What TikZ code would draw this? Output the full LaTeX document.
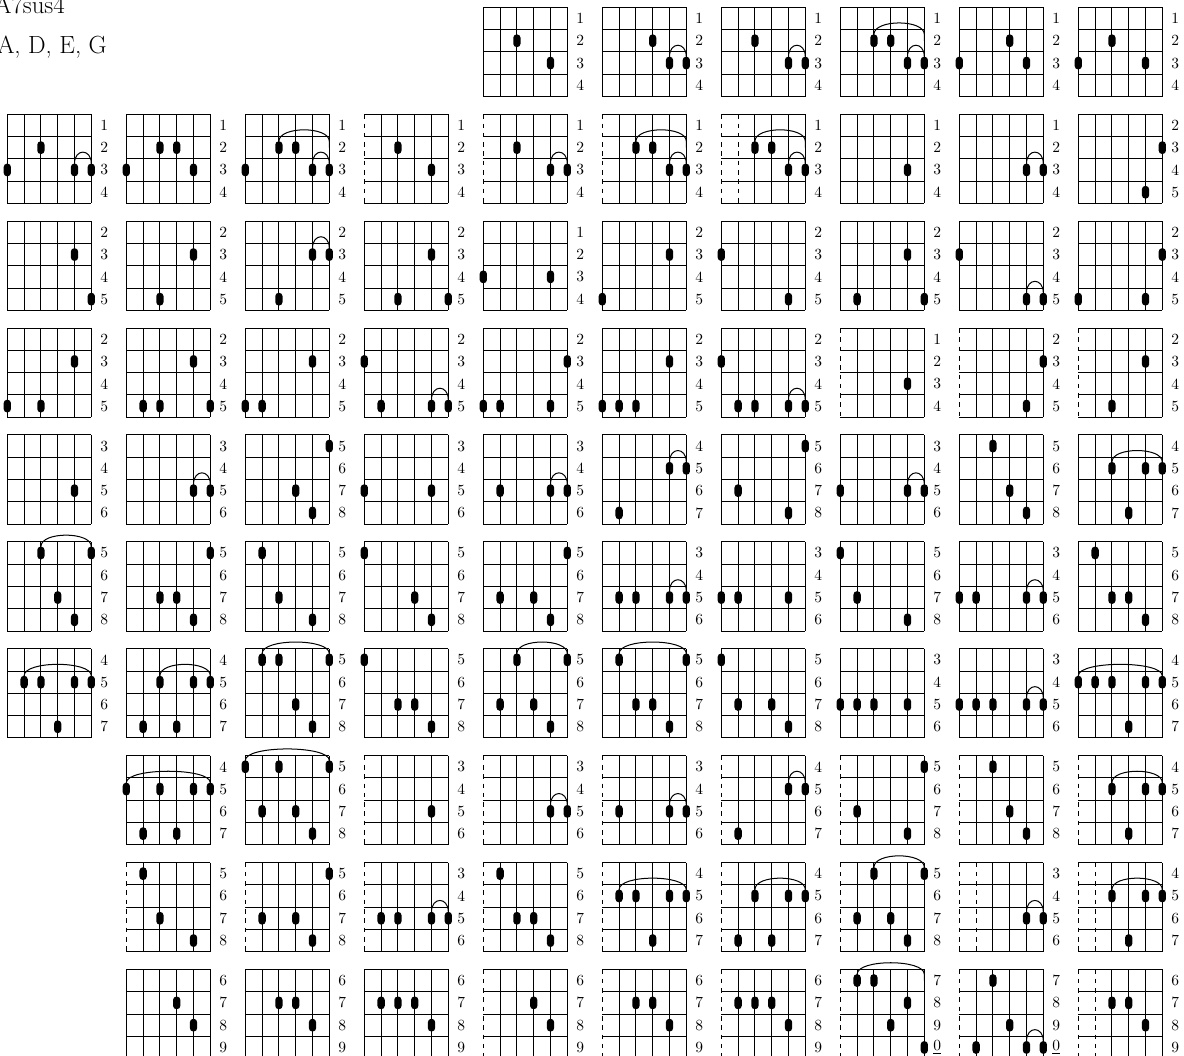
\documentclass[tikz,border=0pt]{standalone}
\usepackage{fontspec}
\usetikzlibrary{positioning}

\tikzset{
  fret line/.style={line width=0.65pt},
  muted string/.style={dash pattern=on 3pt off 3pt},
  finger/.style={fill=black, rounded corners=2.2pt},
  slur/.style={line width=0.65pt},
  fret label/.style={anchor=west, inner sep=0pt, font=\normalsize},
  title text/.style={anchor=base west, inner sep=0pt, font=\fontsize{16}{19}\selectfont}
}

% \chord{col}{row}{first fret}{muted strings}{string/row dots}{from/to/row arcs}
\newcommand{\chord}[6]{%
  \begin{scope}[shift={({7.3+119*#1},{7.3+106.9*#2})}]
    \foreach \f in {0,...,4}
      \draw[fret line] (0,{22.3*\f}) -- (84,{22.3*\f});
    \foreach \s in {1,...,6}{
      \ifnum\s>#4\relax
        \draw[fret line] ({16.8*(\s-1)},0) -- ({16.8*(\s-1)},89.2);
      \else
        \draw[fret line,muted string] ({16.8*(\s-1)},0) -- ({16.8*(\s-1)},89.2);
      \fi}
    \foreach \k in {0,...,3}{
      \pgfmathtruncatemacro\lab{#3+\k}
      \node[fret label] (lab-#2-#1-\k) at (92.7,{22.3*\k+11.15})
        {\ifnum\lab=10 \underline{0}\else\lab\fi};}
    \foreach \s/\r in {#5}
      \fill[finger] ({16.8*(\s-1)-3.65},{22.3*(\r-0.5)-6.35}) rectangle +(7.3,12.7);
    \if\relax\detokenize{#6}\relax\else
      \foreach \a/\b/\r in {#6}
        \draw[slur] ({16.8*(\a-1)},{22.3*(\r-0.5)}) -- ({16.8*(\a-1)},{22.3*(\r-0.5)-6.35})
          .. controls +(0,-15.3) and +(0,-15.3) .. ({16.8*(\b-1)},{22.3*(\r-0.5)-6.35})
          -- ({16.8*(\b-1)},{22.3*(\r-0.5)});
    \fi
  \end{scope}}

\begin{document}
\begin{tikzpicture}[x=0.645pt, y=-0.645pt]
  \useasboundingbox (0,0) rectangle (1184,1055);
  \node[title text] (chordname) at (-6,13) {A7sus4};
  \node[title text] (notes) at (-3,53) {A, D, E, G};

  % row 1
  \chord{4}{0}{1}{0}{3/2,5/3}{}
  \chord{5}{0}{1}{0}{4/2,5/3,6/3}{5/6/3}
  \chord{6}{0}{1}{0}{3/2,5/3,6/3}{5/6/3}
  \chord{7}{0}{1}{0}{3/2,4/2,5/3,6/3}{3/6/2,5/6/3}
  \chord{8}{0}{1}{0}{4/2,1/3,5/3}{}
  \chord{9}{0}{1}{0}{3/2,1/3,5/3}{}
  % row 2
  \chord{0}{1}{1}{0}{3/2,1/3,5/3,6/3}{5/6/3}
  \chord{1}{1}{1}{0}{3/2,4/2,1/3,5/3}{}
  \chord{2}{1}{1}{0}{3/2,4/2,1/3,5/3,6/3}{3/6/2,5/6/3}
  \chord{3}{1}{1}{1}{3/2,5/3}{}
  \chord{4}{1}{1}{1}{3/2,5/3,6/3}{5/6/3}
  \chord{5}{1}{1}{1}{3/2,4/2,5/3,6/3}{3/6/2,5/6/3}
  \chord{6}{1}{1}{2}{3/2,4/2,5/3,6/3}{3/6/2,5/6/3}
  \chord{7}{1}{1}{0}{5/3}{}
  \chord{8}{1}{1}{0}{5/3,6/3}{5/6/3}
  \chord{9}{1}{2}{0}{6/2,5/4}{}
  % row 3
  \chord{0}{2}{2}{0}{5/2,6/4}{}
  \chord{1}{2}{2}{0}{5/2,3/4}{}
  \chord{2}{2}{2}{0}{5/2,6/2,3/4}{5/6/2}
  \chord{3}{2}{2}{0}{5/2,3/4,6/4}{}
  \chord{4}{2}{1}{0}{1/3,5/3}{}
  \chord{5}{2}{2}{0}{5/2,1/4}{}
  \chord{6}{2}{2}{0}{1/2,5/4}{}
  \chord{7}{2}{2}{0}{5/2,2/4,6/4}{}
  \chord{8}{2}{2}{0}{1/2,5/4,6/4}{5/6/4}
  \chord{9}{2}{2}{0}{6/2,1/4,5/4}{}
  % row 4
  \chord{0}{3}{2}{0}{5/2,1/4,3/4}{}
  \chord{1}{3}{2}{0}{5/2,2/4,3/4,6/4}{}
  \chord{2}{3}{2}{0}{5/2,1/4,2/4}{}
  \chord{3}{3}{2}{0}{1/2,2/4,5/4,6/4}{5/6/4}
  \chord{4}{3}{2}{0}{6/2,1/4,2/4,5/4}{}
  \chord{5}{3}{2}{0}{5/2,1/4,2/4,3/4}{}
  \chord{6}{3}{2}{0}{1/2,2/4,3/4,5/4,6/4}{5/6/4}
  \chord{7}{3}{1}{1}{5/3}{}
  \chord{8}{3}{2}{1}{6/2,5/4}{}
  \chord{9}{3}{2}{1}{5/2,3/4}{}
  % row 5
  \chord{0}{4}{3}{0}{5/3}{}
  \chord{1}{4}{3}{0}{5/3,6/3}{5/6/3}
  \chord{2}{4}{5}{0}{6/1,4/3,5/4}{}
  \chord{3}{4}{3}{0}{1/3,5/3}{}
  \chord{4}{4}{3}{0}{2/3,5/3,6/3}{5/6/3}
  \chord{5}{4}{4}{0}{5/2,6/2,2/4}{5/6/2}
  \chord{6}{4}{5}{0}{6/1,2/3,5/4}{}
  \chord{7}{4}{3}{0}{1/3,5/3,6/3}{5/6/3}
  \chord{8}{4}{5}{0}{3/1,4/3,5/4}{}
  \chord{9}{4}{4}{0}{3/2,5/2,6/2,4/4}{3/6/2}
  % row 6
  \chord{0}{5}{5}{0}{3/1,6/1,4/3,5/4}{3/6/1}
  \chord{1}{5}{5}{0}{6/1,3/3,4/3,5/4}{}
  \chord{2}{5}{5}{0}{2/1,3/3,5/4}{}
  \chord{3}{5}{5}{0}{1/1,4/3,5/4}{}
  \chord{4}{5}{5}{0}{6/1,2/3,4/3,5/4}{}
  \chord{5}{5}{3}{0}{2/3,3/3,5/3,6/3}{5/6/3}
  \chord{6}{5}{3}{0}{1/3,2/3,5/3}{}
  \chord{7}{5}{5}{0}{1/1,2/3,5/4}{}
  \chord{8}{5}{3}{0}{1/3,2/3,5/3,6/3}{5/6/3}
  \chord{9}{5}{5}{0}{2/1,3/3,4/3,5/4}{}
  % row 7
  \chord{0}{6}{4}{0}{2/2,3/2,5/2,6/2,4/4}{2/6/2}
  \chord{1}{6}{4}{0}{3/2,5/2,6/2,2/4,4/4}{3/6/2}
  \chord{2}{6}{5}{0}{2/1,3/1,6/1,4/3,5/4}{2/6/1}
  \chord{3}{6}{5}{0}{1/1,3/3,4/3,5/4}{}
  \chord{4}{6}{5}{0}{3/1,6/1,2/3,4/3,5/4}{3/6/1}
  \chord{5}{6}{5}{0}{2/1,6/1,3/3,4/3,5/4}{2/6/1}
  \chord{6}{6}{5}{0}{1/1,2/3,4/3,5/4}{}
  \chord{7}{6}{3}{0}{1/3,2/3,3/3,5/3}{}
  \chord{8}{6}{3}{0}{1/3,2/3,3/3,5/3,6/3}{5/6/3}
  \chord{9}{6}{4}{0}{1/2,2/2,3/2,5/2,6/2,4/4}{1/6/2}
  % row 8
  \chord{1}{7}{4}{0}{1/2,3/2,5/2,6/2,2/4,4/4}{1/6/2}
  \chord{2}{7}{5}{0}{1/1,3/1,6/1,2/3,4/3,5/4}{1/6/1}
  \chord{3}{7}{3}{1}{5/3}{}
  \chord{4}{7}{3}{1}{5/3,6/3}{5/6/3}
  \chord{5}{7}{3}{1}{2/3,5/3,6/3}{5/6/3}
  \chord{6}{7}{4}{1}{5/2,6/2,2/4}{5/6/2}
  \chord{7}{7}{5}{1}{6/1,2/3,5/4}{}
  \chord{8}{7}{5}{1}{3/1,4/3,5/4}{}
  \chord{9}{7}{4}{1}{3/2,5/2,6/2,4/4}{3/6/2}
  % row 9
  \chord{1}{8}{5}{1}{2/1,3/3,5/4}{}
  \chord{2}{8}{5}{1}{6/1,2/3,4/3,5/4}{}
  \chord{3}{8}{3}{1}{2/3,3/3,5/3,6/3}{5/6/3}
  \chord{4}{8}{5}{1}{2/1,3/3,4/3,5/4}{}
  \chord{5}{8}{4}{1}{2/2,3/2,5/2,6/2,4/4}{2/6/2}
  \chord{6}{8}{4}{1}{3/2,5/2,6/2,2/4,4/4}{3/6/2}
  \chord{7}{8}{5}{1}{3/1,6/1,2/3,4/3,5/4}{3/6/1}
  \chord{8}{8}{3}{2}{5/3,6/3}{5/6/3}
  \chord{9}{8}{4}{2}{3/2,5/2,6/2,4/4}{3/6/2}
  % row 10
  \chord{1}{9}{6}{0}{4/2,5/3}{}
  \chord{2}{9}{6}{0}{3/2,4/2,5/3}{}
  \chord{3}{9}{6}{0}{2/2,3/2,4/2,5/3}{}
  \chord{4}{9}{6}{1}{4/2,5/3}{}
  \chord{5}{9}{6}{1}{3/2,4/2,5/3}{}
  \chord{6}{9}{6}{1}{2/2,3/2,4/2,5/3}{}
  \chord{7}{9}{7}{1}{2/1,3/1,5/2,4/3,6/4}{2/6/1}
  \chord{8}{9}{7}{1}{3/1,4/3,2/4,5/4,6/4}{5/6/4}
  \chord{9}{9}{6}{2}{3/2,4/2,5/3}{}
\end{tikzpicture}
\end{document}
